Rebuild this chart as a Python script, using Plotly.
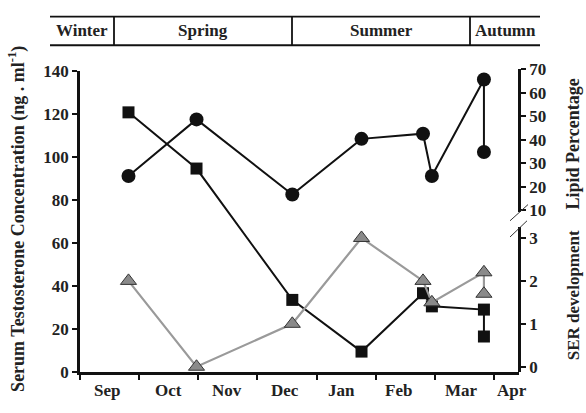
import plotly.graph_objects as go

# Sampling dates, in months counted from the start of September
sample_month = [0.82, 1.97, 3.59, 4.76, 5.80, 5.95, 6.83, 6.83]

# Serum testosterone (ng/ml), left axis
testosterone = [120.8, 94.7, 33.7, 9.7, 36.8, 30.7, 29.2, 16.7]
# Lipid percentage, upper right axis
lipid_pct = [24.6, 48.7, 16.7, 40.4, 42.6, 24.6, 65.7, 34.8]
# SER development score, lower right axis
ser_dev = [2.0, 0.0, 1.0, 3.0, 2.0, 1.5, 2.2, 1.7]

month_names = ["Sep", "Oct", "Nov", "Dec", "Jan", "Feb", "Mar", "Apr"]
month_label_pos = [0.46, 1.50, 2.48, 3.46, 4.43, 5.38, 6.45, 7.30]

seasons = ["Winter", "Spring", "Summer", "Autumn"]

W, H = 586, 413
FONT = "Liberation Serif, Times New Roman, serif"
INK = "#111111"
TXT = "#222222"


def px_x(x):
    return x / W


def px_y(y):
    return 1 - y / H


def bold(size):
    return dict(family=FONT, size=size, color=TXT, weight="bold")


x_dom = [px_x(80), px_x(519)]
x_rng = [0, (519 - 80) / 59.14]

fig = go.Figure()

fig.add_trace(go.Scatter(
    x=sample_month, y=testosterone, mode="lines+markers",
    line=dict(color=INK, width=2),
    marker=dict(symbol="square", size=12, color=INK),
    xaxis="x", yaxis="y", cliponaxis=False, showlegend=False,
))
fig.add_trace(go.Scatter(
    x=sample_month, y=lipid_pct, mode="lines+markers",
    line=dict(color=INK, width=2),
    marker=dict(symbol="circle", size=14, color=INK),
    xaxis="x", yaxis="y2", cliponaxis=False, showlegend=False,
))
fig.add_trace(go.Scatter(
    x=sample_month, y=ser_dev, mode="lines+markers",
    line=dict(color="#9a9a9a", width=2.2),
    marker=dict(symbol="triangle-up", size=14, color="#8a8a8a",
                line=dict(color="#333333", width=1)),
    xaxis="x", yaxis="y3", cliponaxis=False, showlegend=False,
))

axis_common = dict(
    showline=True, linecolor=INK, linewidth=2.5, ticks="outside",
    ticklen=5, tickwidth=2, tickcolor=INK, showgrid=False, zeroline=False,
    tickfont=bold(17),
)

fig.update_layout(
    width=W, height=H,
    margin=dict(l=0, r=0, t=0, b=0),
    paper_bgcolor="white", plot_bgcolor="rgba(0,0,0,0)",
    xaxis=dict(domain=x_dom, range=x_rng, tickvals=list(range(8)),
               showticklabels=False, anchor="y", **axis_common),
    yaxis=dict(domain=[px_y(381), px_y(65)], range=[0, 140],
               tickvals=list(range(0, 141, 20)), anchor="x", **axis_common),
    yaxis2=dict(domain=[px_y(213), px_y(63.3)],
                range=[70 - (213 - 63.3) / 2.46, 70],
                tickvals=list(range(10, 71, 10)), anchor="free",
                position=x_dom[1], side="right", **axis_common),
    yaxis3=dict(domain=[px_y(381), px_y(229)],
                range=[(375 - 381) / 45, (375 - 229) / 45],
                tickvals=[0, 1, 2, 3], anchor="free",
                position=x_dom[1], side="right", **axis_common),
)

annotations = []
# Month labels sit between the month boundary ticks
for name, pos in zip(month_names, month_label_pos):
    annotations.append(dict(
        x=pos, y=px_y(400), xref="x", yref="paper", text=name,
        showarrow=False, font=bold(17),
        xanchor="center", yanchor="middle"))

# Axis titles
title_specs = [
    (17, 220, "Serum Testosterone Concentration (ng . ml<sup>-1</sup>)", 18),
    (573, 142, "Lipid Percentage", 18),
    (573, 300, "SER development", 17),
]
for tx, ty, text, size in title_specs:
    annotations.append(dict(
        x=px_x(tx), y=px_y(ty), xref="paper", yref="paper", text=text,
        textangle=-90, showarrow=False, font=bold(size),
        xanchor="center", yanchor="middle"))

# Season strip across the top
season_edges = [50, 114, 292, 470, 540]
for i, name in enumerate(seasons):
    cx = (season_edges[i] + season_edges[i + 1]) / 2
    annotations.append(dict(
        x=px_x(cx), y=px_y(23), xref="paper", yref="paper", text=name,
        showarrow=False, font=bold(17),
        xanchor="center", yanchor="middle"))

shapes = [
    dict(type="line", xref="paper", yref="paper",
         x0=px_x(50), x1=px_x(540), y0=px_y(8), y1=px_y(8),
         line=dict(color=INK, width=1.8)),
    dict(type="line", xref="paper", yref="paper",
         x0=px_x(50), x1=px_x(540), y0=px_y(38), y1=px_y(38),
         line=dict(color=INK, width=1.8)),
]
for xe in season_edges[1:-1]:
    shapes.append(dict(type="line", xref="paper", yref="paper",
                       x0=px_x(xe), x1=px_x(xe), y0=px_y(8), y1=px_y(38),
                       line=dict(color=INK, width=1.8)))

# Axis break marks on the right axis
shapes.append(dict(type="line", xref="paper", yref="paper",
                   x0=px_x(510), x1=px_x(528), y0=px_y(222), y1=px_y(205),
                   line=dict(color="#333333", width=1)))
shapes.append(dict(type="line", xref="paper", yref="paper",
                   x0=px_x(510), x1=px_x(527), y0=px_y(239), y1=px_y(222),
                   line=dict(color="#333333", width=1)))

fig.update_layout(annotations=annotations, shapes=shapes)

fig.write_html("out.html")
